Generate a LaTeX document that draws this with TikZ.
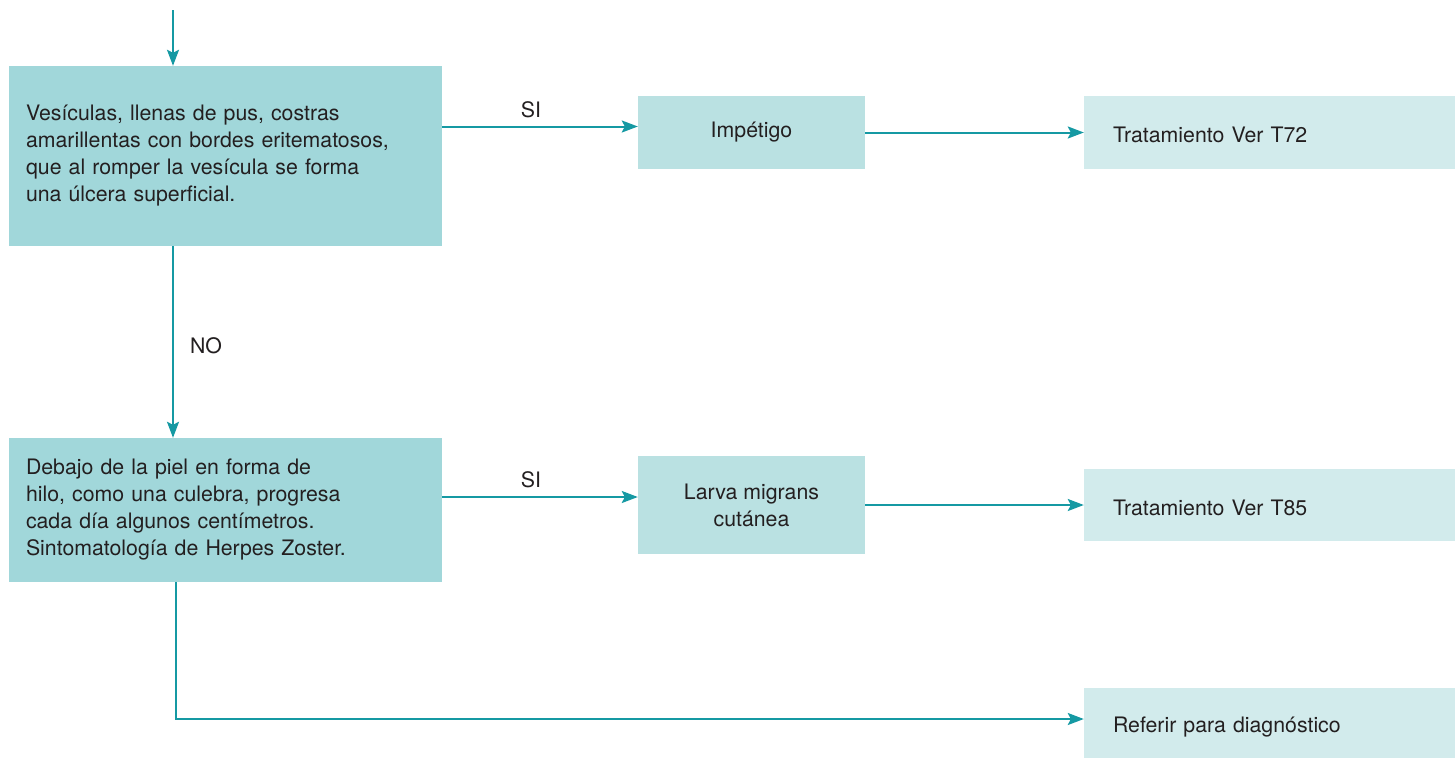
\documentclass[tikz,border=0pt]{standalone}
\usepackage{fontspec}
\setmainfont{TeX Gyre Heros}
\usetikzlibrary{arrows.meta}

\definecolor{flecha}{HTML}{1599A3}
\definecolor{caja1}{HTML}{A1D7DA}
\definecolor{caja2}{HTML}{BAE1E2}
\definecolor{caja3}{HTML}{D2EBEC}
\definecolor{texto}{HTML}{231F20}

\tikzset{
	pregunta/.style={fill=caja1, text=texto, minimum width=433pt, minimum height=180pt,
		text width=399pt, inner sep=17pt, align=left},
	diagn/.style={fill=caja2, text=texto, minimum width=227pt, minimum height=73pt, align=center},
	trata/.style={fill=caja3, text=texto, minimum width=371pt, minimum height=73pt,
		text width=313pt, inner xsep=29pt, align=left, text height=20pt, text depth=0pt},
	arr/.style={flecha, line width=2pt, -{Stealth[length=16pt,width=12pt,inset=3pt]}},
	etiq/.style={text=texto, inner sep=0pt}
}

\begin{document}
\begin{tikzpicture}[x=1pt,y=-1pt,font=\fontsize{21.3}{27}\selectfont]
	
	\useasboundingbox (0,0) rectangle (1455,758);
	
	% cajas
	{
		\node[pregunta] (P1) at (225.5,156) {Vesículas, llenas de pus, costras\\amarillentas con bordes eritematosos,\\que al romper la vesícula se forma\\una úlcera superficial.};
		\node[pregunta, minimum height=144pt] (P2) at (225.5,510) {Debajo de la piel en forma de\\hilo, como una culebra, progresa\\cada día algunos centímetros.\\Sintomatología de Herpes Zoster.};
		
		\node[diagn] (D1) at (751.5,132.5) {Impétigo};
		\node[diagn, minimum height=98pt] (D2) at (751.5,505) {Larva migrans\\cutánea};
		
		\node[trata] (T1) at (1269.5,132.5) {Tratamiento Ver T72};
		\node[trata, minimum height=72pt] (T2) at (1269.5,505) {Tratamiento Ver T85};
		\node[trata, minimum height=70pt] (T3) at (1269.5,722.5) {Referir para diagnóstico};
	}
	
	\coordinate (inicio) at (173,10);
	\path ([yshift=6pt]D1.west) coordinate (si1);
	\path ([yshift=8pt]D2.west) coordinate (si2);
	\path ([yshift=3.5pt]T3.west) coordinate (ref);
	
	% flechas
	{
		\draw[arr] (inicio) -- (inicio |- P1.north);
		\draw[arr] (si1 -| P1.east) -- node[etiq, above=8pt, xshift=-9pt] (SI1) {SI} (si1);
		\draw[arr] (D1.east) -- (T1.west);
		\draw[arr] (inicio |- P1.south) -- node[etiq, right=16pt, pos=0.52] (NO) {NO} (inicio |- P2.north);
		\draw[arr] (si2 -| P2.east) -- node[etiq, above=8pt, xshift=-9pt] (SI2) {SI} (si2);
		\draw[arr] (D2.east) -- (T2.west);
		\draw[arr] ([xshift=-49.5pt]P2.south) |- (ref);
	}
	
\end{tikzpicture}
\end{document}
